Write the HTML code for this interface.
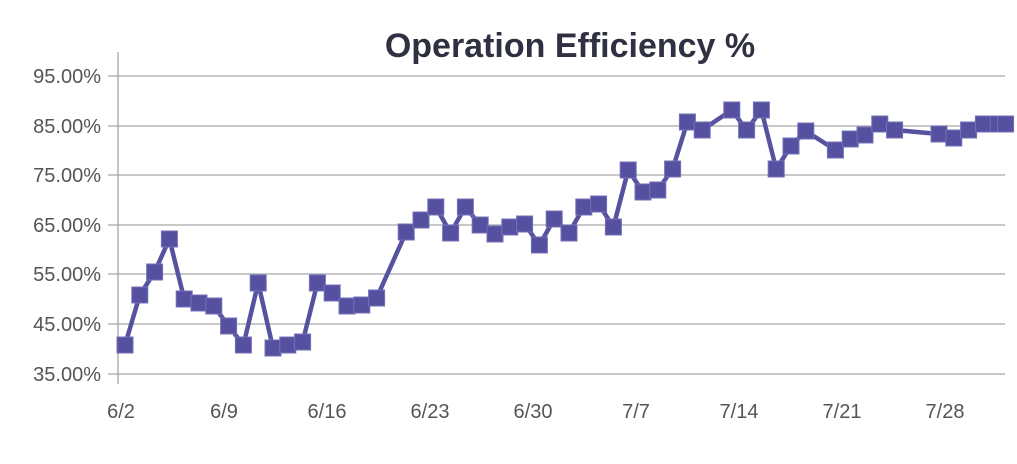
<!DOCTYPE html>
<html><head><meta charset="utf-8"><style>
body{margin:0;background:#fff;}
svg text{font-family:"Liberation Sans",sans-serif;}
</style></head><body>
<svg id="c" width="1017" height="459" xmlns="http://www.w3.org/2000/svg">
<rect width="1017" height="459" fill="#fff"/>
<text x="570" y="57" text-anchor="middle" font-size="34" font-weight="bold" fill="#2f3142">Operation Efficiency %</text>
<g stroke="#a6a6a6" stroke-width="1.3">
<line x1="108" y1="76" x2="1005" y2="76"/>
<line x1="108" y1="126" x2="1005" y2="126"/>
<line x1="108" y1="175" x2="1005" y2="175"/>
<line x1="108" y1="225" x2="1005" y2="225"/>
<line x1="108" y1="274" x2="1005" y2="274"/>
<line x1="108" y1="324" x2="1005" y2="324"/>
<line x1="108" y1="374" x2="1005" y2="374"/>
<line x1="118" y1="52" x2="118" y2="384"/>
</g>
<g font-size="20" fill="#555" text-anchor="end">
<text x="101" y="83">95.00%</text>
<text x="101" y="133">85.00%</text>
<text x="101" y="182">75.00%</text>
<text x="101" y="232">65.00%</text>
<text x="101" y="281">55.00%</text>
<text x="101" y="331">45.00%</text>
<text x="101" y="381">35.00%</text>
</g>
<g font-size="20" fill="#555" text-anchor="middle">
<text x="121" y="418">6/2</text>
<text x="224" y="418">6/9</text>
<text x="327" y="418">6/16</text>
<text x="430" y="418">6/23</text>
<text x="533" y="418">6/30</text>
<text x="636" y="418">7/7</text>
<text x="739" y="418">7/14</text>
<text x="842" y="418">7/21</text>
<text x="945" y="418">7/28</text>
</g>
<g id="s"></g>
</svg>
<script>
var pts=[[0,345],[1,295],[2,272],[3,239],[4,299],[5,303],[6,306],[7,326],[8,345],[9,283],[10,348],[11,345],[12,342],[13,283],[14,293],[15,306],[16,305],[17,298],[19,232],[20,220],[21,207],[22,233],[23,207],[24,225],[25,234],[26,227],[27,224],[28,245],[29,219],[30,233],[31,207],[32,204],[33,227],[34,170],[35,192],[36,190],[37,169],[38,122],[39,130],[41,110],[42,130],[43,110],[44,169],[45,146],[46,131],[48,150],[49,139],[50,135],[51,124],[52,130],[55,134],[56,138],[57,130],[58,124],[59,124],[59.5,124]];
var s=document.getElementById('s'),ns='http://www.w3.org/2000/svg';
var p=pts.map(function(a){return (125+a[0]*14.8)+','+a[1];}).join(' ');
var pl=document.createElementNS(ns,'polyline');
pl.setAttribute('points',p);pl.setAttribute('fill','none');pl.setAttribute('stroke','#5652a0');pl.setAttribute('stroke-width','4.5');pl.setAttribute('stroke-linejoin','round');
s.appendChild(pl);
pts.forEach(function(a){var r=document.createElementNS(ns,'rect');var x=125+a[0]*14.8;
r.setAttribute('x',x-8);r.setAttribute('y',a[1]-8);r.setAttribute('width',16);r.setAttribute('height',16);
r.setAttribute('fill','#5550a0');r.setAttribute('stroke','#7470b8');r.setAttribute('stroke-width','1');s.appendChild(r);});
</script>
</body></html>
